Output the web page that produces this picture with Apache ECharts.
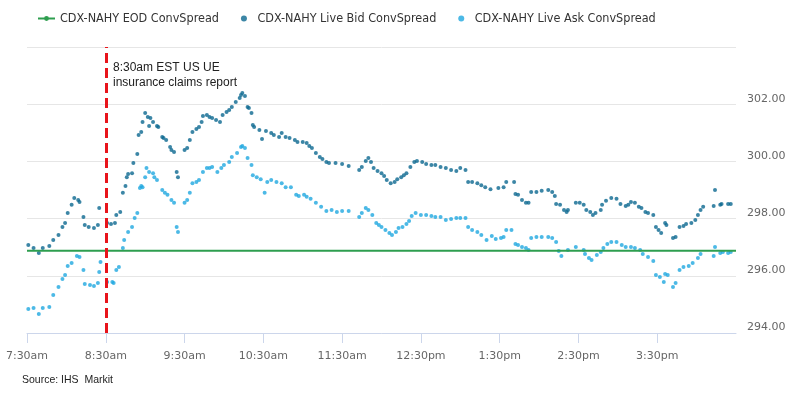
<!DOCTYPE html>
<html>
<head>
<meta charset="utf-8">
<script src="https://cdn.jsdelivr.net/npm/echarts@6/dist/echarts.min.js"></script>
<style>
html,body{margin:0;padding:0;background:#fff;}
#chart{width:805px;height:394px;}
</style>
</head>
<body>
<div id="chart"></div>
<script>
// ---- data (x = minutes after 7:30am) ----
const tickLabels = ['7:30am','8:30am','9:30am','10:30am','11:30am','12:30pm','1:30pm','2:30pm','3:30pm'];
const tickMinutes = [0,60,120,180,240,300,360,420,480];
const announcementMinute = 60;
const annotationText = '8:30am EST US UE\ninsurance claims report';
const seriesNames = ['CDX-NAHY EOD ConvSpread','CDX-NAHY Live Bid ConvSpread','CDX-NAHY Live Ask ConvSpread'];

const eodTime = [0, 540];
const eodValue = [296.88, 296.88];

const bidTime = [1,5,9,12,17,20,24,27,29,31,34,36,39,40,43,44,47,51,54,55,61,64,67,68,71,73,75,76,77,80,81,84,85,87,88,90,92,93,94,96,99,100,103,104,106,109,110,112,114,115,120,122,124,126,129,131,133,134,137,139,141,144,147,149,152,154,156,159,162,163,164,166,168,169,171,172,173,177,179,182,186,188,192,194,197,200,204,206,210,213,215,217,220,223,225,228,230,235,240,245,253,255,258,260,262,264,267,270,272,274,277,280,282,285,287,289,292,295,297,301,304,308,311,315,319,323,327,330,334,336,339,343,346,349,353,359,363,365,371,372,374,377,380,382,384,388,392,397,400,402,403,406,409,411,412,418,421,424,426,429,431,433,437,438,441,445,449,452,456,458,460,463,466,468,471,473,477,479,481,483,486,487,492,494,497,500,502,506,509,511,513,515,523,524,528,529,534,536];
const bidValue = [297.08,296.97,296.80,296.97,297.04,297.25,297.43,297.71,297.85,298.20,298.48,298.72,298.65,298.58,298.06,297.78,297.71,297.67,297.78,298.37,297.85,297.81,297.85,298.13,298.23,298.90,299.14,299.45,299.56,299.59,299.94,300.26,300.92,301.03,301.38,301.69,301.55,301.24,301.52,301.38,301.24,301.20,300.85,300.82,300.75,300.50,300.40,300.33,299.63,299.45,300.40,300.47,300.75,301.03,301.13,301.20,301.38,301.59,301.62,301.55,301.52,301.45,301.38,301.62,301.73,301.80,301.90,302.08,302.22,302.32,302.39,302.29,301.90,301.87,301.69,301.27,301.20,301.10,300.78,301.06,300.99,300.92,300.85,300.99,300.85,300.82,300.75,300.68,300.68,300.64,300.54,300.47,300.29,300.15,300.08,299.98,299.94,299.94,299.91,299.84,299.70,299.80,300.01,300.12,299.98,299.77,299.66,299.59,299.49,299.35,299.24,299.28,299.38,299.45,299.52,299.59,299.80,299.98,300.01,299.98,299.91,299.87,299.87,299.80,299.77,299.70,299.66,299.77,299.70,299.28,299.28,299.24,299.17,299.10,299.03,299.07,299.10,299.28,299.28,298.86,298.83,298.65,298.55,298.55,298.93,298.93,298.97,299.00,298.93,298.79,298.51,298.48,298.30,298.23,298.30,298.55,298.55,298.48,298.30,298.23,298.13,298.20,298.30,298.48,298.62,298.72,298.69,298.51,298.44,298.48,298.58,298.55,298.41,298.37,298.23,298.20,298.13,297.71,297.60,297.50,297.85,297.78,297.32,297.36,297.71,297.74,297.81,297.85,297.95,298.13,298.30,298.41,298.44,299.00,298.48,298.51,298.51,298.51];

const askTime = [1,5,9,12,17,20,24,27,29,31,34,38,40,43,44,48,51,54,55,56,61,65,66,68,70,73,74,77,80,82,84,86,87,88,90,91,93,96,97,99,103,105,107,110,112,114,115,120,122,124,126,129,131,134,137,139,141,145,148,150,154,156,160,163,164,166,168,171,172,175,178,181,183,186,190,194,197,201,205,207,211,213,216,220,224,228,232,236,240,245,253,255,258,260,263,266,268,270,273,276,278,281,283,286,289,291,293,296,300,304,308,311,315,319,323,327,330,334,336,339,343,346,350,354,357,361,363,365,369,372,374,377,380,382,384,388,392,397,400,403,405,407,412,418,424,425,428,430,434,437,439,442,445,449,453,456,460,463,467,469,473,477,479,482,485,486,488,492,494,497,500,504,507,511,513,523,524,528,530,534,536];
const askValue = [294.84,294.87,294.66,294.87,294.91,295.33,295.61,295.89,296.03,296.34,296.45,296.69,296.66,296.20,295.71,295.68,295.64,295.75,296.13,296.48,295.78,295.78,295.75,296.20,296.31,296.97,297.25,297.53,297.71,298.02,298.20,299.07,299.14,299.10,299.45,299.77,299.63,299.59,299.45,299.35,299.00,298.90,298.83,298.65,298.55,297.71,297.53,298.55,298.65,298.90,299.24,299.28,299.35,299.63,299.77,299.77,299.80,299.63,299.77,299.87,299.98,300.15,300.29,300.50,300.54,300.47,300.12,299.87,299.52,299.45,299.38,298.90,299.28,299.35,299.28,299.24,299.10,299.10,298.83,298.79,298.83,298.76,298.69,298.55,298.41,298.27,298.30,298.23,298.27,298.27,298.06,298.20,298.37,298.30,298.13,297.85,297.78,297.71,297.60,297.50,297.43,297.53,297.67,297.71,297.81,297.92,298.09,298.20,298.13,298.13,298.09,298.06,298.06,297.95,297.99,298.02,298.02,298.02,297.71,297.60,297.53,297.43,297.25,297.39,297.29,297.32,297.36,297.60,297.60,297.11,297.08,297.01,296.97,296.90,297.32,297.36,297.36,297.36,297.32,297.18,296.87,296.69,296.90,297.01,296.90,296.76,296.62,296.55,296.73,296.83,296.97,297.11,297.18,297.18,297.08,297.01,297.01,296.97,296.90,296.76,296.66,296.52,296.03,295.96,295.78,296.06,296.03,295.61,295.75,296.20,296.31,296.34,296.45,296.62,296.76,296.69,297.01,296.80,296.83,296.80,296.83];

const zip = (a, b) => a.map((t, i) => [t, b[i]]);

const chart = echarts.init(document.getElementById('chart'), null, {renderer: 'canvas'});
const narrow = "'DejaVu Sans Condensed', 'Liberation Sans Narrow', Arial, sans-serif";
const axisFont = "'DejaVu Sans', Verdana, sans-serif";

chart.setOption({
  animation: false,
  backgroundColor: '#ffffff',
  grid: {left: 27, right: 69, top: 47, bottom: 61, containLabel: false},
  legend: {
    left: 32, top: 7,
    itemWidth: 17, itemHeight: 6, itemGap: 22,
    textStyle: {fontFamily: narrow, fontSize: 12.5, color: '#333'},
    data: [
      {name: seriesNames[0]},
      {name: seriesNames[1], icon: 'circle'},
      {name: seriesNames[2], icon: 'circle'}
    ]
  },
  xAxis: {
    type: 'value', min: 0, max: 540, interval: 60,
    splitLine: {show: false},
    axisLine: {lineStyle: {color: '#ccd6eb', width: 1}},
    axisTick: {customValues: tickMinutes, length: 10, lineStyle: {color: '#ccd6eb'}},
    axisLabel: {
      customValues: tickMinutes,
      formatter: v => tickLabels[tickMinutes.indexOf(v)] || '',
      color: '#666', fontSize: 11, fontFamily: axisFont, margin: 18
    }
  },
  yAxis: {
    type: 'value', position: 'right', min: 294, max: 304, interval: 2,
    axisLine: {show: false}, axisTick: {show: false},
    splitLine: {lineStyle: {color: '#e6e6e6', width: 1}},
    axisLabel: {
      formatter: v => v.toFixed(2), showMaxLabel: false,
      color: '#666', fontSize: 11, fontFamily: axisFont, margin: 11,
      verticalAlign: 'bottom'
    }
  },
  series: [
    {
      name: seriesNames[0], type: 'line', data: zip(eodTime, eodValue),
      symbol: 'none', lineStyle: {color: '#2e9e4f', width: 2}, itemStyle: {color: '#2e9e4f'},
      z: 3,
      markLine: {
        silent: true, symbol: ['none', 'none'], label: {show: false},
        lineStyle: {color: '#e8141b', width: 3, type: [10, 5]},
        data: [{xAxis: announcementMinute}]
      }
    },
    {
      name: seriesNames[1], type: 'scatter', data: zip(bidTime, bidValue),
      symbolSize: 4, itemStyle: {color: '#0b6890'}, z: 2
    },
    {
      name: seriesNames[2], type: 'scatter', data: zip(askTime, askValue),
      symbolSize: 4, itemStyle: {color: '#1fa8e0'}, z: 2
    }
  ],
  graphic: [
    {type: 'text', left: 113, top: 60,
     style: {text: annotationText, font: "12px 'Liberation Sans', Arial, sans-serif", fill: '#222', lineHeight: 15}},
    {type: 'text', left: 22, top: 375,
     style: {text: 'Source: IHS  Markit', font: "10.5px 'Liberation Sans', Arial, sans-serif", fill: '#222'}}
  ]
});
</script>
</body>
</html>
